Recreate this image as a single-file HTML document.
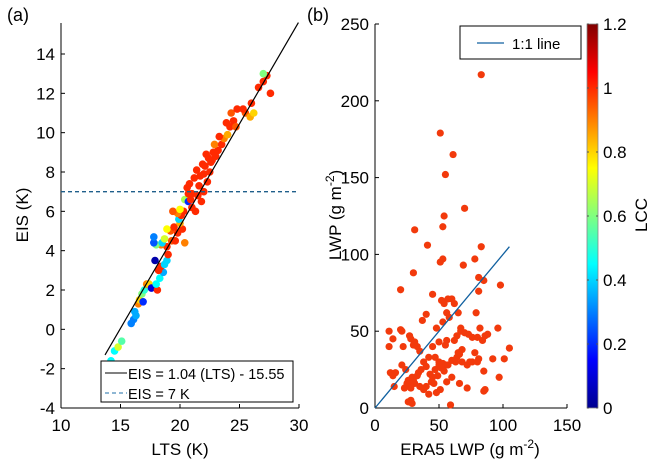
<!DOCTYPE html>
<html><head><meta charset="utf-8"><style>
body{margin:0;background:#fff}
svg{display:block;font-family:"Liberation Sans",Arial,sans-serif}
</style></head><body>
<svg id="c" width="655" height="469" viewBox="0 0 655 469">
<defs>
<linearGradient id="jet" x1="0" y1="1" x2="0" y2="0">
<stop offset="0" stop-color="#00008f"/><stop offset="0.125" stop-color="#0000ff"/>
<stop offset="0.375" stop-color="#00ffff"/><stop offset="0.625" stop-color="#ffff00"/>
<stop offset="0.875" stop-color="#ff0000"/><stop offset="1" stop-color="#800000"/>
</linearGradient>
</defs>
<g id="pa"></g>
<g id="pb"></g>
</svg>
<script>
const ltsVals=[14.2,14.5,14.8,15.1,15.9,16.1,16.3,16.2,16.5,16.6,16.9,16.8,17.0,17.2,17.4,17.6,18.1,18.0,18.3,18.6,18.2,18.4,18.7,17.9,18.9,19.0,18.9,18.4,18.0,17.8,17.8,18.5,19.3,19.6,20.4,18.7,19.8,19.2,18.9,19.5,20.2,20.0,19.9,20.1,20.3,20.4,19.8,19.4,20.0,20.7,20.9,21.0,21.3,21.0,21.8,21.5,20.6,20.8,21.6,22.0,22.3,21.2,21.4,22.0,22.5,21.9,22.4,22.7,22.2,22.8,23.2,22.9,23.5,23.7,23.3,24.0,24.2,23.9,24.5,24.3,24.8,24.7,25.5,26.0,25.9,25.3,26.2,26.6,27.0,27.3,27.0,27.6,22.6,23.0,21.7,22.1,20.7];
const eisVals=[-1.6,-1.1,-0.9,-0.6,0.3,0.5,0.7,0.9,1.3,1.5,1.4,1.8,2.0,2.3,2.3,2.1,2.0,2.3,2.6,2.9,3.0,3.2,3.3,3.5,3.5,3.8,4.2,4.3,4.3,4.4,4.7,4.4,4.5,4.5,4.4,4.6,4.9,5.0,5.1,5.2,5.1,5.4,5.6,5.8,6.0,6.6,5.9,6.0,6.1,6.5,6.6,6.2,6.0,6.9,6.5,6.8,7.2,7.4,7.3,7.0,7.5,7.7,8.1,7.9,8.0,8.4,8.7,8.6,8.9,9.0,9.1,9.4,9.4,9.7,9.8,9.9,10.3,10.5,10.6,11.0,11.2,10.3,11.0,11.5,10.8,11.2,11.0,12.3,12.6,12.9,13.0,12.0,8.5,8.8,7.8,8.3,6.9];
const lccA=[0.45,0.45,0.7,0.55,0.3,0.3,0.35,0.35,0.9,0.8,0.2,0.6,0.5,0.9,0.8,0.1,1.0,0.45,0.45,0.35,1.0,1.0,0.4,0.05,0.4,1.0,1.0,0.9,0.6,0.25,0.3,0.4,0.95,1.0,0.9,0.7,1.0,0.95,0.75,1.0,1.0,0.85,0.4,1.0,1.0,0.65,0.9,0.95,0.75,0.2,1.0,1.0,1.0,1.0,1.0,1.0,1.0,1.0,1.0,1.0,1.0,1.0,1.0,1.0,1.0,1.0,1.0,1.0,1.0,1.0,1.0,0.9,1.0,0.9,1.0,0.85,1.0,1.0,1.0,0.95,1.0,0.95,0.95,1.0,0.85,1.0,0.8,1.0,1.0,1.0,0.6,1.0,1.0,1.0,1.0,1.0,1.0];
const aXTicks=[10,15,20,25,30];
const aYTicks=[-4,-2,0,2,4,6,8,10,12,14];
const fitSlope=1.04, fitIntercept=-15.55, eisThreshold=7;

const era5Vals=[83,51,61,55,70,54,53,31,41,83,78,53,51,69,30,81,85,98,20,45,81,52,57,60,62,54,37,40,56,65,48,53,58,79,82,96,11,20,21,27,28,14,31,30,33,11,22,45,50,56,62,67,70,73,67,76,80,84,86,88,35,55,64,68,38,42,47,50,53,55,60,64,66,68,72,74,78,81,92,101,105,76,80,12,14,16,21,24,26,27,29,31,34,36,40,43,45,47,50,52,54,46,40,38,35,28,30,42,48,51,56,60,66,72,85,86,97,85,15,26,28,29,59,65,63,57,49,44,33,25,23];
const lwpVals=[217,179,165,152,130,125,118,116,106,105,97,97,95,93,88,85,83,80,77,74,76,70,71,71,68,68,57,61,62,62,52,56,59,62,52,52,50,51,50,47,45,45,43,41,40,40,40,40,43,44,44,52,49,48,50,46,46,44,47,48,37,41,47,38,30,33,33,30,29,28,31,33,35,30,28,30,36,32,32,32,39,30,30,23,21,23,28,25,18,15,20,16,23,25,27,22,20,25,28,26,24,16,14,12,14,13,18,9,10,12,17,20,16,13,11,12,20,24,14,4,5,3,2,36,30,28,21,17,21,16,13];
const bXTicks=[0,50,100,150];
const bYTicks=[0,50,100,150,200,250];
const cbTicks=[0,0.2,0.4,0.6,0.8,1.0,1.2];
const cbLabels=["0","0.2","0.4","0.6","0.8","1","1.2"];
const oneToOneMax=105;

const NS="http://www.w3.org/2000/svg";
function mk(p,t,a,txt){const e=document.createElementNS(NS,t);for(const k in a)e.setAttribute(k,a[k]);if(txt!==undefined)e.textContent=txt;p.appendChild(e);return e;}
function jet(v){v=Math.max(0,Math.min(1,v/1.2));
 const cl=x=>Math.max(0,Math.min(1,x));
 const r=cl(1.5-Math.abs(4*v-3)),g=cl(1.5-Math.abs(4*v-2)),b=cl(1.5-Math.abs(4*v-1));
 return `rgb(${Math.round(r*255)},${Math.round(g*255)},${Math.round(b*255)})`;}

// Panel A
const A=document.getElementById('pa');
const ax=v=>61+(v-10)*(299-61)/20, ay=v=>408-(v+4)*(408-54)/18;
mk(A,'line',{x1:61,y1:23,x2:61,y2:408,stroke:'#000','stroke-width':1});
mk(A,'line',{x1:61,y1:408,x2:299,y2:408,stroke:'#000','stroke-width':1});
aXTicks.forEach(t=>{mk(A,'line',{x1:ax(t),y1:408,x2:ax(t),y2:404,stroke:'#000'});
 const e=mk(A,'text',{x:ax(t),y:431,'font-size':17,'text-anchor':'middle'},String(t));
 });
aYTicks.forEach(t=>{mk(A,'line',{x1:61,y1:ay(t),x2:65,y2:ay(t),stroke:'#000'});
 const e=mk(A,'text',{x:55,y:ay(t)+6,'font-size':17,'text-anchor':'end'},String(t));
 });
ltsVals.forEach((x,i)=>{const c=mk(A,'circle',{cx:ax(x),cy:ay(eisVals[i]),r:3.8,fill:jet(lccA[i])});
 });
const th=mk(A,'line',{x1:61,y1:ay(eisThreshold),x2:299,y2:ay(eisThreshold),stroke:'#1f5f8b','stroke-width':1.3,'stroke-dasharray':'4,3'});

const x0=13.7,x1=(15.6-fitIntercept)/fitSlope;
const fl=mk(A,'line',{x1:ax(x0),y1:ay(fitSlope*x0+fitIntercept),x2:ax(x1),y2:ay(fitSlope*x1+fitIntercept),stroke:'#000','stroke-width':1.2});

const lg=mk(A,'g',{});
mk(lg,'rect',{x:101,y:361,width:192,height:41,fill:'#fff',stroke:'#000'});
mk(lg,'line',{x1:105,y1:373,x2:127,y2:373,stroke:'#000'});
mk(lg,'text',{x:128,y:379,'font-size':14.5},'EIS = 1.04 (LTS) - 15.55');
mk(lg,'line',{x1:105,y1:393,x2:127,y2:393,stroke:'#1f6fa8','stroke-dasharray':'4,3'});
mk(lg,'text',{x:128,y:399,'font-size':14.5},'EIS = 7 K');
let t=mk(A,'text',{x:180,y:455,'font-size':17,'text-anchor':'middle'},'LTS (K)');
t=mk(A,'text',{x:0,y:0,'font-size':17,'text-anchor':'middle',transform:'translate(28,215) rotate(-90)'},'EIS (K)');
t=mk(A,'text',{x:7,y:21,'font-size':18},'(a)');

// Panel B
const B=document.getElementById('pb');
const bx=v=>375+v*(567-375)/150, by=v=>408-v*(408-24)/250;
mk(B,'line',{x1:375,y1:24,x2:375,y2:408,stroke:'#000'});
mk(B,'line',{x1:375,y1:408,x2:567,y2:408,stroke:'#000'});
bXTicks.forEach(v=>{mk(B,'line',{x1:bx(v),y1:408,x2:bx(v),y2:404,stroke:'#000'});
 const e=mk(B,'text',{x:bx(v),y:431,'font-size':17,'text-anchor':'middle'},String(v));
 });
bYTicks.forEach(v=>{mk(B,'line',{x1:375,y1:by(v),x2:379,y2:by(v),stroke:'#000'});
 const e=mk(B,'text',{x:369,y:by(v)+6,'font-size':17,'text-anchor':'end'},String(v));
 });
era5Vals.forEach((x,i)=>{const c=mk(B,'circle',{cx:bx(x),cy:by(lwpVals[i]),r:3.6,fill:'#f23a0c'});
 });
const ol=mk(B,'line',{x1:bx(0),y1:by(0),x2:bx(oneToOneMax),y2:by(oneToOneMax),stroke:'#1060a0','stroke-width':1.3});

const lb=mk(B,'g',{});
mk(lb,'rect',{x:460,y:26,width:121,height:33,fill:'#fff',stroke:'#000'});
mk(lb,'line',{x1:477,y1:43,x2:504,y2:43,stroke:'#1060a0','stroke-width':1.3});
mk(lb,'text',{x:512,y:49,'font-size':15},'1:1 line');
// colorbar
const cb=mk(B,'g',{});
mk(cb,'rect',{x:587,y:24,width:11,height:384,fill:'url(#jet)',stroke:'#888','stroke-width':0.8});
const cy=v=>408-v*384/1.2;
cbTicks.forEach((v,i)=>{mk(cb,'line',{x1:587,y1:cy(v),x2:589,y2:cy(v),stroke:'#555'});mk(cb,'line',{x1:596,y1:cy(v),x2:598,y2:cy(v),stroke:'#555'});
 const e=mk(cb,'text',{x:603,y:cy(v)+6,'font-size':17},cbLabels[i]);
 });
t=mk(B,'text',{x:0,y:0,'font-size':17,'text-anchor':'middle',transform:'translate(647,215) rotate(-90)'},'LCC');
t=mk(B,'text',{x:470,y:455,'font-size':17,'text-anchor':'middle'});t.innerHTML='ERA5 LWP (g m<tspan dy="-7" font-size="12">-2</tspan><tspan dy="7">)</tspan>';

t=mk(B,'text',{x:0,y:0,'font-size':17,'text-anchor':'middle',transform:'translate(341,215) rotate(-90)'});t.innerHTML='LWP (g m<tspan dy="-7" font-size="12">-2</tspan><tspan dy="7">)</tspan>';

t=mk(B,'text',{x:307,y:21,'font-size':18},'(b)');
</script>
</body></html>
